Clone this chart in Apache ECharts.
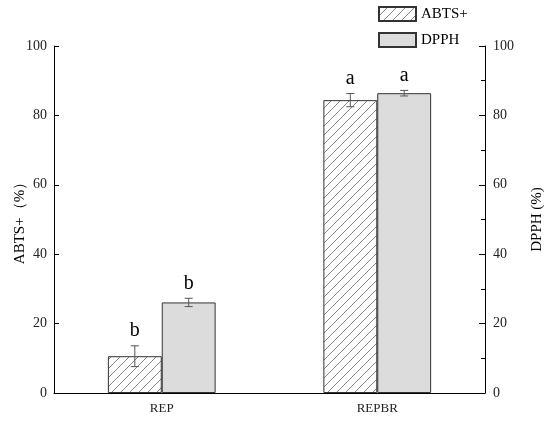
<!DOCTYPE html>
<html>
<head>
<meta charset="utf-8">
<script src="https://cdn.jsdelivr.net/npm/echarts@6/dist/echarts.min.js"></script>
<style>
  html, body { margin: 0; padding: 0; background: #fff; }
  #chart { width: 550px; height: 421px; }
</style>
</head>
<body>
<div id="chart"></div>
<script>
// values
var categories = ['REP', 'REPBR']
var abts = [10.6, 84.4]
var abtsErr = [3.0, 1.9]
var dpph = [26.1, 86.4]
var dpphErr = [1.2, 0.8]
var abtsSig = ['b', 'a']
var dpphSig = ['b', 'a']
var yTicks = [0, 20, 40, 60, 80, 100]

var font = '"Liberation Serif", "DejaVu Serif", serif'

// diagonal hatch for the ABTS+ bars
function hatch () {
  var c = document.createElement('canvas')
  c.width = 9
  c.height = 9
  var ctx = c.getContext('2d')
  ctx.fillStyle = '#fff'
  ctx.fillRect(0, 0, 9, 9)
  ctx.strokeStyle = '#777'
  ctx.lineWidth = 0.9
  ctx.beginPath()
  ctx.moveTo(0, 9); ctx.lineTo(9, 0)
  ctx.moveTo(-1, 1); ctx.lineTo(1, -1)
  ctx.moveTo(8, 10); ctx.lineTo(10, 8)
  ctx.stroke()
  return c
}

function errData (vals, errs, sig) {
  return vals.map(function (v, i) { return [i, v, errs[i], sig[i]] })
}

function errRender (shift) {
  return function (params, api) {
    var i = api.value(0)
    var v = api.value(1)
    var e = api.value(2)
    var x = api.coord([i, 0])[0] + shift * api.size([1, 0])[0] * 0.125
    var top = api.coord([i, v + e])[1]
    var bot = api.coord([i, v - e])[1]
    var st = { stroke: '#555', lineWidth: 1 }
    return {
      type: 'group',
      children: [
        { type: 'line', shape: { x1: x, y1: top, x2: x, y2: bot }, style: st },
        { type: 'line', shape: { x1: x - 4, y1: top, x2: x + 4, y2: top }, style: st },
        { type: 'line', shape: { x1: x - 4, y1: bot, x2: x + 4, y2: bot }, style: st },
        {
          type: 'text',
          style: {
            x: x, y: top - 5, text: api.value(3),
            textAlign: 'center', textVerticalAlign: 'bottom',
            font: '20px ' + font, fill: '#000'
          }
        }
      ]
    }
  }
}

var myChart = echarts.init(document.getElementById('chart'))
var option = {
  animation: false,
  textStyle: { fontFamily: font },
  grid: { left: 54, right: 65, top: 46, bottom: 28, outerBoundsMode: 'none', containLabel: false },
  legend: {
    orient: 'vertical',
    left: 378,
    top: 6,
    padding: 0,
    icon: 'rect',
    itemWidth: 37,
    itemHeight: 14,
    itemGap: 10,
    textStyle: { fontFamily: font, fontSize: 15, color: '#000' },
    data: ['ABTS+', 'DPPH']
  },
  xAxis: {
    type: 'category',
    data: categories,
    axisLine: { lineStyle: { color: '#000', width: 1 } },
    axisTick: { show: false },
    axisLabel: { color: '#222', fontSize: 13, fontFamily: font, margin: 9 }
  },
  yAxis: [{
    type: 'value',
    min: yTicks[0],
    max: yTicks[yTicks.length - 1],
    interval: 20,
    name: 'ABTS+（%）',
    nameLocation: 'middle',
    nameGap: 26,
    nameMoveOverlap: false,
    nameTextStyle: { fontFamily: font, fontSize: 15, color: '#000' },
    axisLine: { show: true, lineStyle: { color: '#000' } },
    axisTick: { show: true, inside: true, length: 5, lineStyle: { color: '#000' } },
    axisLabel: { color: '#222', fontSize: 14, fontFamily: font, margin: 7 },
    splitLine: { show: false }
  }, {
    type: 'value',
    min: yTicks[0],
    max: yTicks[yTicks.length - 1],
    interval: 20,
    position: 'right',
    name: 'DPPH (%)',
    nameLocation: 'middle',
    nameRotate: 90,
    nameGap: 45,
    nameTextStyle: { fontFamily: font, fontSize: 15, color: '#000' },
    axisLine: { show: true, lineStyle: { color: '#000' } },
    axisTick: { show: true, inside: true, length: 6, lineStyle: { color: '#000' } },
    minorTick: { show: true, splitNumber: 2, length: 4, lineStyle: { color: '#000' } },
    axisLabel: { color: '#222', fontSize: 14, fontFamily: font, margin: 8 },
    splitLine: { show: false }
  }],
  series: [
    {
      name: 'ABTS+',
      type: 'bar',
      data: abts,
      barWidth: '25%',
      barGap: '0%',
      itemStyle: { color: { image: hatch(), repeat: 'repeat' }, borderColor: '#333', borderWidth: 1 }
    },
    {
      name: 'DPPH',
      type: 'bar',
      data: dpph,
      barWidth: '25%',
      barGap: '0%',
      itemStyle: { color: '#dcdcdc', borderColor: '#333', borderWidth: 1 }
    },
    {
      type: 'custom',
      data: errData(abts, abtsErr, abtsSig),
      renderItem: errRender(-1),
      z: 5
    },
    {
      type: 'custom',
      data: errData(dpph, dpphErr, dpphSig),
      renderItem: errRender(1),
      z: 5
    }
  ]
}
myChart.setOption(option)
</script>
</body>
</html>
